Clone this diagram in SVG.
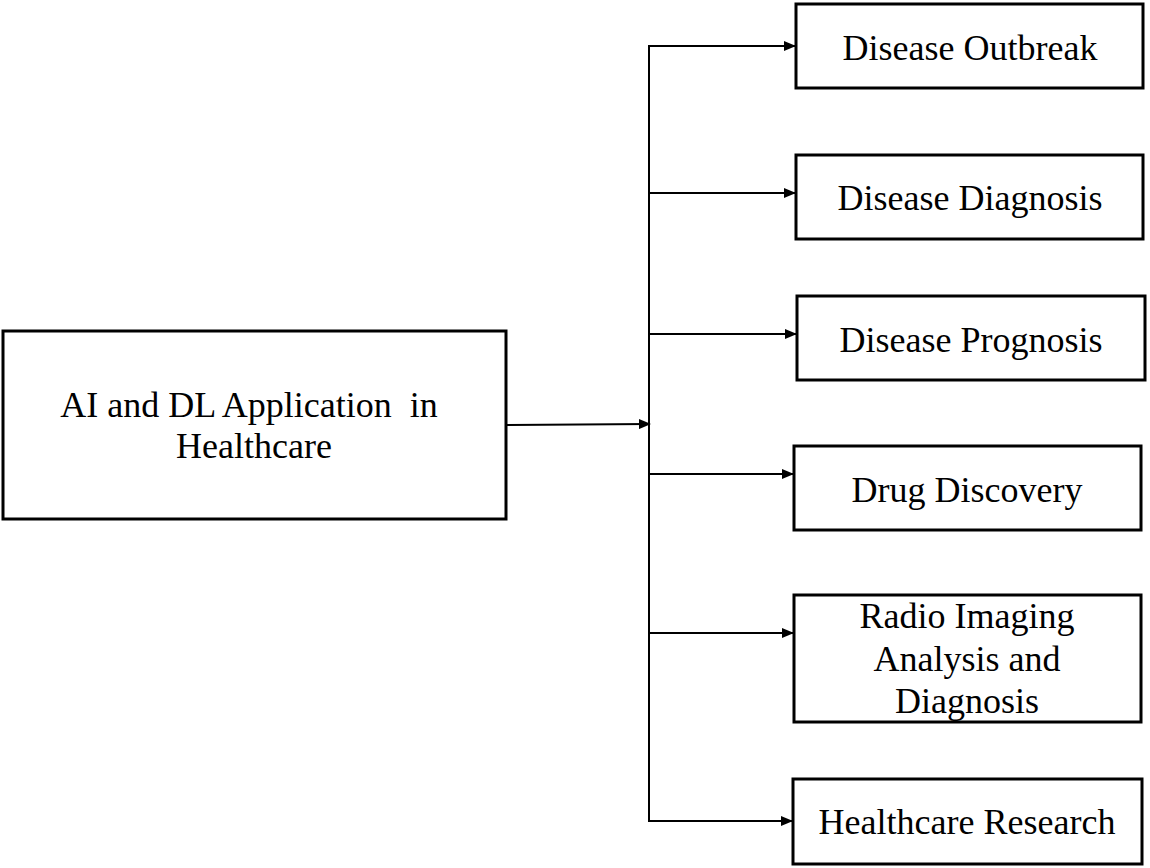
<svg xmlns="http://www.w3.org/2000/svg" width="1150" height="868" viewBox="0 0 1150 868">
<style>
.box{fill:#fff;stroke:#000;stroke-width:3}
.t{font-family:"Liberation Serif","Times New Roman",serif;font-size:36px;fill:#000;text-anchor:middle}
.ln{fill:none;stroke:#000;stroke-width:2}
</style>
<defs>
<marker id="ah" markerWidth="12" markerHeight="10" refX="11" refY="5" orient="auto" markerUnits="userSpaceOnUse">
<path d="M0,0 L12,5 L0,10 Z" fill="#000"/>
</marker>
</defs>
<rect width="1150" height="868" fill="#fff"/>
<g id="connectors">
<line class="ln" x1="506" y1="425" x2="650" y2="424" marker-end="url(#ah)"/>
<line class="ln" x1="649" y1="45" x2="649" y2="822"/>
<line class="ln" x1="648" y1="46" x2="795" y2="46" marker-end="url(#ah)"/>
<line class="ln" x1="648" y1="193" x2="795" y2="193" marker-end="url(#ah)"/>
<line class="ln" x1="648" y1="334" x2="796" y2="334" marker-end="url(#ah)"/>
<line class="ln" x1="648" y1="474" x2="793" y2="474" marker-end="url(#ah)"/>
<line class="ln" x1="648" y1="633" x2="793" y2="633" marker-end="url(#ah)"/>
<line class="ln" x1="648" y1="821" x2="792" y2="821" marker-end="url(#ah)"/>
</g>
<g id="main">
<rect class="box" x="3" y="331" width="503" height="188"/>
<text class="t" x="249" y="417" xml:space="preserve">AI and DL Application  in</text>
<text class="t" x="254" y="458">Healthcare</text>
</g>
<g id="outbreak">
<rect class="box" x="796" y="4" width="347" height="84"/>
<text class="t" x="970" y="60">Disease Outbreak</text>
</g>
<g id="diagnosis">
<rect class="box" x="796" y="155" width="347" height="84"/>
<text class="t" x="970" y="210">Disease Diagnosis</text>
</g>
<g id="prognosis">
<rect class="box" x="797" y="296" width="348" height="84"/>
<text class="t" x="971" y="352">Disease Prognosis</text>
</g>
<g id="drug">
<rect class="box" x="794" y="446" width="347" height="84"/>
<text class="t" x="967" y="502">Drug Discovery</text>
</g>
<g id="radio">
<rect class="box" x="794" y="595" width="347" height="127"/>
<text class="t" x="967" y="628">Radio Imaging</text>
<text class="t" x="967" y="671">Analysis and</text>
<text class="t" x="967" y="713">Diagnosis</text>
</g>
<g id="research">
<rect class="box" x="793" y="779" width="349" height="85"/>
<text class="t" x="967" y="834">Healthcare Research</text>
</g>
</svg>
